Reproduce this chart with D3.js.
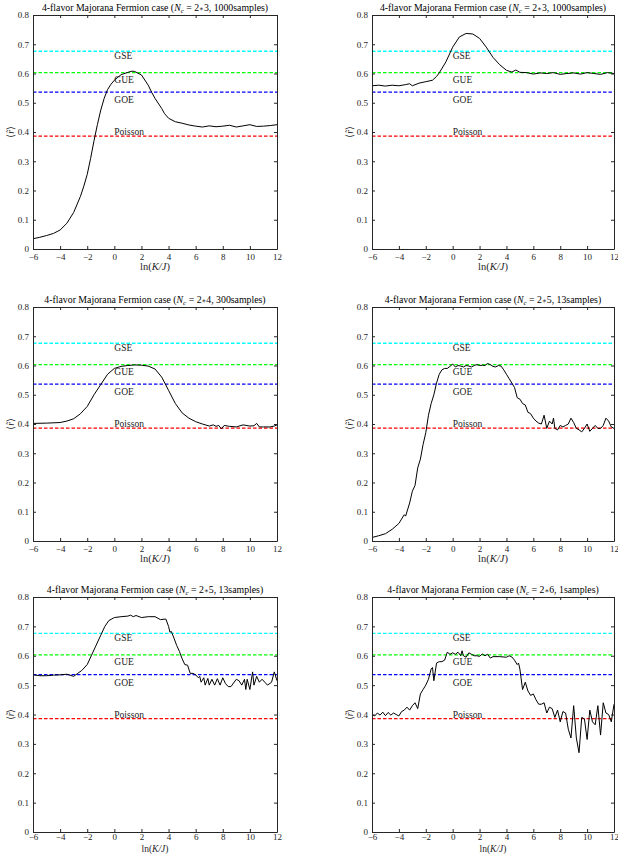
<!DOCTYPE html>
<html>
<head>
<meta charset="utf-8">
<script src="https://cdn.jsdelivr.net/npm/d3@7"></script>
<style>
  body { margin: 0; background: #fff; }
  svg { display: block; }
  text { font-family: "Liberation Serif", "Times New Roman", serif; }
</style>
</head>
<body>
<div id="chart"></div>
<script>
// reference levels (GSE, GUE, GOE, Poisson)
const refNames = ['GSE', 'GUE', 'GOE', 'Poisson'];
const refValues = [0.676, 0.603, 0.536, 0.386];
const refLabelValues = [0.66, 0.58, 0.51, 0.40];

const xTicks = [-6, -4, -2, 0, 2, 4, 6, 8, 10, 12];
const yTicks = [0, 0.1, 0.2, 0.3, 0.4, 0.5, 0.6, 0.7, 0.8];

const titleNcA = ['2', '2', '2', '2', '2', '2'];
const titleNcB = ['3', '3', '4', '5', '5', '6'];
const titleSamples = ['1000samples', '1000samples', '300samples', '13samples', '13samples', '1samples'];

// panel 1 : Nc = 2*3
const x1 = [-6, -5.5, -5, -4.5, -4, -3.5, -3, -2.5, -2.25, -2, -1.75, -1.5, -1.25, -1, -0.75, -0.5, -0.25, 0, 0.5, 1, 1.3, 1.5, 2, 2.5, 2.75, 3, 3.5, 3.7, 4, 4.5, 5, 5.5, 6, 6.5, 7, 7.5, 8, 8.5, 9, 9.5, 10, 10.5, 11, 11.5, 12];
const y1 = [0.035, 0.04, 0.046, 0.053, 0.065, 0.088, 0.125, 0.18, 0.215, 0.255, 0.31, 0.37, 0.425, 0.475, 0.515, 0.545, 0.563, 0.577, 0.596, 0.604, 0.608, 0.607, 0.595, 0.56, 0.536, 0.515, 0.48, 0.463, 0.447, 0.435, 0.43, 0.424, 0.42, 0.417, 0.421, 0.418, 0.42, 0.423, 0.417, 0.421, 0.425, 0.419, 0.42, 0.422, 0.425];

// panel 2 : Nc = 2*3 (second set)
const x2 = [-6, -5.5, -5, -4.5, -4, -3.5, -3.2, -3, -2.5, -2, -1.5, -1.2, -1, -0.5, 0, 0.5, 1, 1.5, 2, 2.5, 3, 3.5, 4, 4.4, 4.7, 5, 5.5, 6, 6.5, 7, 7.5, 8, 8.5, 9, 9.5, 10, 10.5, 11, 11.5, 12];
const y2 = [0.558, 0.56, 0.557, 0.56, 0.558, 0.562, 0.565, 0.558, 0.567, 0.572, 0.577, 0.59, 0.602, 0.64, 0.69, 0.725, 0.737, 0.735, 0.72, 0.69, 0.655, 0.63, 0.611, 0.605, 0.612, 0.604, 0.603, 0.598, 0.602, 0.6, 0.603, 0.597, 0.6, 0.602, 0.598, 0.603, 0.6, 0.597, 0.603, 0.6];

// panel 3 : Nc = 2*4
const x3 = [-6, -5, -4, -3.5, -3, -2.5, -2, -1.5, -1, -0.5, 0, 0.5, 1, 1.5, 2, 2.5, 3, 3.5, 4, 4.5, 5, 5.5, 6, 6.5, 7, 7.3, 7.5, 7.7, 7.9, 8.1, 8.5, 9, 9.5, 10, 10.3, 10.5, 10.7, 11, 11.5, 11.8, 12];
const y3 = [0.402, 0.403, 0.405, 0.41, 0.418, 0.435, 0.46, 0.5, 0.535, 0.57, 0.59, 0.597, 0.6, 0.602, 0.601, 0.598, 0.588, 0.56, 0.515, 0.47, 0.438, 0.42, 0.408, 0.4, 0.393, 0.397, 0.392, 0.395, 0.383, 0.395, 0.392, 0.39, 0.397, 0.393, 0.394, 0.402, 0.39, 0.39, 0.39, 0.393, 0.397];

// panel 4 : Nc = 2*5
const x4 = [-6, -5.5, -5, -4.5, -4, -3.8, -3.6, -3.5, -3.2, -3, -2.8, -2.6, -2.4, -2.2, -2, -1.8, -1.6, -1.4, -1.2, -1, -0.8, -0.6, -0.4, -0.2, 0, 0.2, 0.4, 0.6, 0.8, 1, 1.2, 1.4, 1.6, 1.8, 2, 2.2, 2.4, 2.6, 2.8, 3, 3.2, 3.4, 3.6, 3.8, 4, 4.2, 4.4, 4.6, 4.8, 5, 5.2, 5.4, 5.6, 5.8, 6, 6.2, 6.4, 6.6, 6.8, 7, 7.2, 7.4, 7.5, 7.6, 7.8, 8, 8.2, 8.4, 8.6, 8.8, 9, 9.2, 9.4, 9.6, 9.8, 10, 10.2, 10.4, 10.6, 10.8, 11, 11.2, 11.4, 11.6, 11.8, 12];
const y4 = [0.012, 0.018, 0.025, 0.04, 0.06, 0.075, 0.09, 0.085, 0.13, 0.17, 0.19, 0.25, 0.28, 0.33, 0.37, 0.43, 0.47, 0.5, 0.54, 0.57, 0.585, 0.59, 0.59, 0.597, 0.605, 0.595, 0.6, 0.598, 0.595, 0.6, 0.598, 0.595, 0.6, 0.603, 0.6, 0.601, 0.6, 0.607, 0.603, 0.597, 0.595, 0.6, 0.598, 0.585, 0.57, 0.555, 0.54, 0.525, 0.49, 0.485, 0.47, 0.465, 0.44, 0.435, 0.42, 0.41, 0.403, 0.4, 0.43, 0.385, 0.41, 0.4, 0.42, 0.385, 0.38, 0.395, 0.39, 0.395, 0.4, 0.42, 0.405, 0.385, 0.38, 0.373, 0.385, 0.4, 0.375, 0.385, 0.395, 0.385, 0.385, 0.395, 0.42, 0.41, 0.39, 0.385];

// panel 5 : Nc = 2*5 (second set)
const x5 = [-6, -5.5, -5, -4.5, -4, -3.5, -3, -2.7, -2.4, -2, -1.7, -1.4, -1, -0.7, -0.4, 0, 0.5, 1, 1.2, 1.4, 1.6, 2, 2.5, 3, 3.4, 3.8, 4, 4.1, 4.2, 4.4, 4.6, 4.8, 5, 5.2, 5.4, 5.6, 5.8, 6, 6.2, 6.3, 6.4, 6.6, 6.7, 6.9, 7, 7.2, 7.4, 7.6, 7.8, 8, 8.2, 8.4, 8.6, 9, 9.2, 9.4, 9.6, 9.7, 9.8, 10, 10.2, 10.3, 10.5, 10.7, 10.9, 11.1, 11.3, 11.6, 11.8, 12];
const y5 = [0.535, 0.532, 0.532, 0.534, 0.535, 0.537, 0.53, 0.54, 0.55, 0.57, 0.6, 0.63, 0.67, 0.7, 0.72, 0.73, 0.733, 0.735, 0.738, 0.733, 0.737, 0.73, 0.733, 0.733, 0.723, 0.725, 0.7, 0.68, 0.683, 0.66, 0.635, 0.615, 0.59, 0.57, 0.568, 0.54, 0.54, 0.535, 0.525, 0.53, 0.51, 0.525, 0.5, 0.523, 0.5, 0.52, 0.5, 0.522, 0.5, 0.525, 0.505, 0.495, 0.495, 0.52, 0.515, 0.5, 0.52, 0.485, 0.52, 0.485, 0.545, 0.5, 0.53, 0.51, 0.52, 0.51, 0.5, 0.51, 0.545, 0.515];

// panel 6 : Nc = 2*6
const x6 = [-6, -5.8, -5.6, -5.4, -5.2, -5, -4.8, -4.6, -4.4, -4.2, -4, -3.8, -3.6, -3.4, -3.2, -3, -2.8, -2.6, -2.4, -2.2, -2, -1.8, -1.6, -1.5, -1.4, -1.2, -1, -0.8, -0.6, -0.4, -0.2, 0, 0.2, 0.4, 0.6, 0.7, 0.8, 1, 1.2, 1.4, 1.6, 1.8, 2, 2.2, 2.4, 2.6, 2.8, 3, 3.5, 4, 4.2, 4.4, 4.6, 4.8, 4.9, 5, 5.2, 5.4, 5.6, 5.8, 6, 6.2, 6.4, 6.6, 6.8, 7, 7.2, 7.4, 7.6, 7.8, 8, 8.2, 8.4, 8.6, 8.8, 9, 9.2, 9.4, 9.6, 9.8, 10, 10.2, 10.4, 10.6, 10.8, 11, 11.2, 11.4, 11.6, 11.8, 12];
const y6 = [0.4, 0.395, 0.405, 0.398, 0.408, 0.396, 0.407, 0.398, 0.405, 0.4, 0.395, 0.41, 0.415, 0.425, 0.415, 0.43, 0.44, 0.42, 0.47, 0.485, 0.5, 0.52, 0.555, 0.56, 0.515, 0.575, 0.58, 0.58, 0.585, 0.612, 0.605, 0.61, 0.605, 0.612, 0.6, 0.617, 0.6, 0.595, 0.61, 0.605, 0.6, 0.6, 0.598, 0.606, 0.6, 0.605, 0.592, 0.597, 0.597, 0.595, 0.6, 0.596, 0.585, 0.57, 0.575, 0.555, 0.485, 0.51, 0.48, 0.465, 0.47, 0.45, 0.435, 0.435, 0.44, 0.405, 0.425, 0.42, 0.39, 0.415, 0.375, 0.41, 0.405, 0.35, 0.32, 0.43, 0.32, 0.27, 0.39, 0.385, 0.315, 0.415, 0.375, 0.365, 0.43, 0.33, 0.44, 0.405, 0.4, 0.375, 0.435];

const seriesX = [x1, x2, x3, x4, x5, x6];
const seriesY = [y1, y2, y3, y4, y5, y6];

// layout of the 6 axes boxes
const boxes = [
  { left: 33, right: 277, top: 15, bottom: 249 },
  { left: 372, right: 614, top: 15, bottom: 249 },
  { left: 33, right: 277, top: 307, bottom: 541 },
  { left: 372, right: 614, top: 307, bottom: 541 },
  { left: 33, right: 277, top: 597, bottom: 832 },
  { left: 372, right: 614, top: 597, bottom: 832 },
];
const refColors = ['#00ffff', '#00ff00', '#0000ff', '#ff0000'];
const axisColor = '#262626';

const svg = d3.select('#chart').append('svg').attr('width', 618).attr('height', 854);

function drawPanel(i) {
  const b = boxes[i];
  const lastRow = i >= 4;
  const xScale = d3.scaleLinear().domain([-6, 12]).range([b.left, b.right]);
  const yScale = d3.scaleLinear().domain([0, 0.8]).range([b.bottom, b.top]);
  const g = svg.append('g');

  // reference dashed lines
  refValues.forEach((v, k) => {
    g.append('line')
      .attr('x1', xScale(-6)).attr('x2', xScale(12))
      .attr('y1', yScale(v)).attr('y2', yScale(v))
      .attr('stroke', refColors[k])
      .attr('stroke-width', 1.3)
      .attr('stroke-dasharray', '3.5,2');
    g.append('text')
      .attr('x', xScale(0))
      .attr('y', yScale(refLabelValues[k]))
      .attr('dy', '0.35em')
      .attr('font-size', 9.5)
      .attr('fill', '#1a1a1a')
      .text(refNames[k]);
  });

  // data curve
  const pts = seriesX[i].map((x, k) => [x, seriesY[i][k]]);
  g.append('path')
    .datum(pts)
    .attr('fill', 'none')
    .attr('stroke', '#000')
    .attr('stroke-width', 1)
    .attr('d', d3.line().x(d => xScale(d[0])).y(d => yScale(d[1])));

  // axes, matlab style ticks inside on all sides
  const tickLen = 3;
  const xb = g.append('g').attr('transform', `translate(0,${b.bottom})`)
    .call(d3.axisBottom(xScale).tickValues(xTicks).tickSizeInner(-tickLen).tickSizeOuter(0).tickPadding(lastRow ? 2 : 5));
  const xt = g.append('g').attr('transform', `translate(0,${b.top})`)
    .call(d3.axisTop(xScale).tickValues(xTicks).tickSizeInner(-tickLen).tickSizeOuter(0).tickFormat(''));
  const yl = g.append('g').attr('transform', `translate(${b.left},0)`)
    .call(d3.axisLeft(yScale).tickValues(yTicks).tickSizeInner(-tickLen).tickSizeOuter(0).tickPadding(4).tickFormat(d => d === 0 ? '0' : d3.format('.1f')(d)));
  const yr = g.append('g').attr('transform', `translate(${b.right},0)`)
    .call(d3.axisRight(yScale).tickValues(yTicks).tickSizeInner(-tickLen).tickSizeOuter(0).tickFormat(''));

  [xb, xt, yl, yr].forEach(a => {
    a.select('.domain').attr('stroke', axisColor).attr('stroke-width', 1);
    a.selectAll('.tick line').attr('stroke', axisColor);
    a.selectAll('.tick text').attr('fill', axisColor).attr('font-size', 9)
      .attr('font-family', '"Liberation Serif", serif');
  });

  // title
  const title = g.append('text')
    .attr('x', (b.left + b.right) / 2)
    .attr('y', b.top - 4)
    .attr('text-anchor', 'middle')
    .attr('font-size', 9.8)
    .attr('fill', '#000');
  title.append('tspan').text('4-flavor Majorana Fermion case (');
  title.append('tspan').attr('font-style', 'italic').text('N');
  title.append('tspan').attr('font-size', 7).attr('dy', 2).attr('font-style', 'italic').text('c');
  title.append('tspan').attr('dy', -2).text(` = ${titleNcA[i]}`);
  title.append('tspan').attr('font-family', '"DejaVu Serif", serif').attr('font-size', 7).text('∗');
  title.append('tspan').text(`${titleNcB[i]}, ${titleSamples[i]})`);

  // x label (squeezed a little on the bottom row so it stays on the page)
  const xl = g.append('text')
    .attr('x', (b.left + b.right) / 2)
    .attr('y', lastRow ? 851.5 : b.bottom + 21)
    .attr('text-anchor', 'middle')
    .attr('font-size', lastRow ? 9.5 : 10.5)
    .attr('fill', axisColor);
  xl.append('tspan').text('ln(');
  xl.append('tspan').attr('font-style', 'italic').text('K/J');
  xl.append('tspan').text(')');

  // y label
  const ylab = g.append('text')
    .attr('transform', `translate(${b.left - 19},${(b.top + b.bottom) / 2}) rotate(-90)`)
    .attr('text-anchor', 'middle')
    .attr('font-size', 9.5)
    .attr('fill', axisColor);
  ylab.append('tspan').text('⟨');
  ylab.append('tspan').attr('font-style', 'italic').text('r̃');
  ylab.append('tspan').text('⟩');
}

for (let i = 0; i < 6; i++) drawPanel(i);
</script>
</body>
</html>
